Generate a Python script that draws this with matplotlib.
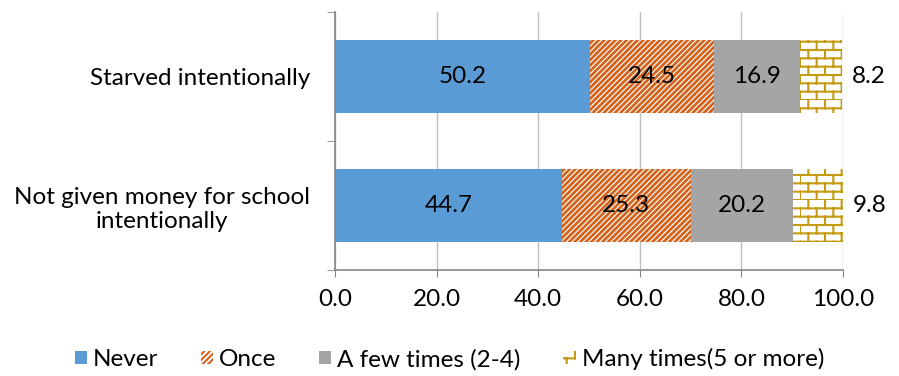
import warnings
import numpy as np
import matplotlib
matplotlib.use("Agg")
import matplotlib.pyplot as plt
import matplotlib.hatch as mhatch
from matplotlib.path import Path
from matplotlib.patches import Patch

warnings.filterwarnings("ignore")

# Data
categories = ["Starved intentionally", "Not given money for school\nintentionally"]
series = ["Never", "Once", "A few times (2-4)", "Many times(5 or more)"]
never = [50.2, 44.7]
once = [24.5, 25.3]
few_times = [16.9, 20.2]
many_times = [8.2, 9.8]
x_ticks = [0, 20, 40, 60, 80, 100]


# brick hatch ('b'), not available in matplotlib by default
class BrickHatch(mhatch.HatchPatternBase):
    def __init__(self, hatch, density):
        self.rows = hatch.count('b') * density
        self.cols = max(self.rows // 2, 1)
        self.num_vertices = self.rows * (1 + self.cols) * 2

    def set_vertices_and_codes(self, vertices, codes):
        h = 1.0 / self.rows
        w = 1.0 / self.cols
        segs = []
        for i in range(self.rows):
            y0 = i * h
            segs.append(((0, y0), (1, y0)))
            shift = 0 if i % 2 == 0 else w / 2
            for j in range(self.cols):
                x = j * w + shift
                segs.append(((x, y0), (x, y0 + h)))
        vertices[:] = np.array(segs).reshape(-1, 2)
        codes[0::2] = Path.MOVETO
        codes[1::2] = Path.LINETO


mhatch._hatch_types.append(BrickHatch)

plt.rcParams['font.family'] = ['Lato', 'DejaVu Sans']
FS = 17.5

styles = [
    dict(color="#5B9BD5", hatch=None, hatch_lw=1.0),
    dict(color="white", edge="#D2641E", hatch="//////", hatch_lw=2.0),
    dict(color="#A5A5A5", hatch=None, hatch_lw=1.0),
    dict(color="white", edge="#C49A0E", hatch="bb", hatch_lw=1.5),
]
values = [never, once, few_times, many_times]

fig = plt.figure(figsize=(8.99, 3.76), dpi=100)
ax = fig.add_axes([0.3727, 0.2819, 0.5650, 0.6862])

y = np.arange(len(categories))
left = np.zeros(len(categories))
for name, vals, st in zip(series, values, styles):
    plt.rcParams['hatch.linewidth'] = st["hatch_lw"]
    bars = ax.barh(y, vals, left=left, height=0.57, color=st["color"],
                   edgecolor=st.get("edge", st["color"]), linewidth=0,
                   hatch=st["hatch"], label=name, zorder=3)
    for b, v in zip(bars, vals):
        if name == series[-1]:
            ax.annotate(f"{v:.1f}", (b.get_x() + b.get_width(), b.get_y() + b.get_height() / 2),
                        xytext=(19, 0), textcoords="offset points",
                        ha="center", va="center", fontsize=FS, zorder=5)
        else:
            ax.text(b.get_x() + b.get_width() / 2, b.get_y() + b.get_height() / 2,
                    f"{v:.1f}", ha="center", va="center", fontsize=FS, zorder=5)
    left += np.array(vals)

ax.set_xlim(0, 100)
ax.set_ylim(1.5, -0.5)
ax.set_xticks(x_ticks)
ax.set_xticklabels([f"{t:.1f}" for t in x_ticks], fontsize=FS)
ax.tick_params(axis="x", length=5, color="#868686", pad=9)

ax.set_yticks(y)
ax.set_yticklabels(categories, fontsize=FS, multialignment="center")
ax.tick_params(axis="y", which="major", length=0, pad=18)
ax.set_yticks([-0.5, 0.5, 1.5], minor=True)
ax.tick_params(axis="y", which="minor", length=6, color="#868686")

ax.grid(axis="x", color="#BFBFBF", linewidth=1.0, zorder=0)
ax.set_axisbelow(True)
for s in ["top", "right"]:
    ax.spines[s].set_visible(False)
for s in ["left", "bottom"]:
    ax.spines[s].set_color("#868686")
    ax.spines[s].set_linewidth(1.2)
    ax.spines[s].set_zorder(4)

handles = []
for name, st in zip(series, styles):
    plt.rcParams['hatch.linewidth'] = st["hatch_lw"]
    handles.append(Patch(facecolor=st["color"], edgecolor=st.get("edge", st["color"]),
                         linewidth=0, hatch=st["hatch"], label=name))
fig.legend(handles=handles, loc="center", bbox_to_anchor=(0.5, 0.045), ncol=4,
           frameon=False, fontsize=FS, handlelength=0.5, handleheight=0.5,
           handletextpad=0.25, columnspacing=1.75)

fig.savefig("out.png", dpi=100)
